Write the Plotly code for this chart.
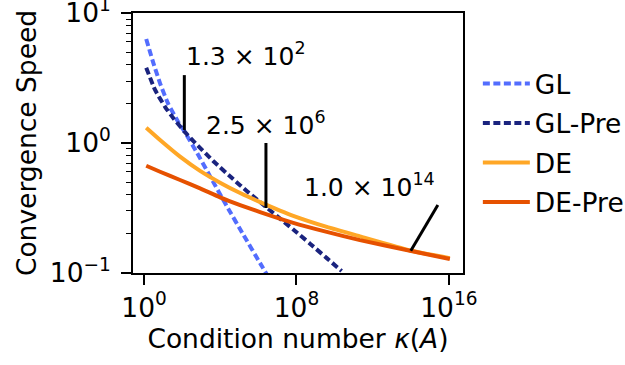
import math
import plotly.graph_objects as go

# ---- data ----
gl_kappa = [1.3, 3.09, 6.92, 18.6, 63.1, 129, 575, 2880, 21900, 1.62e5, 1.23e6, 2.75e6]
gl_speed = [6.31, 4.12, 2.88, 2.00, 1.445, 1.23, 0.851, 0.556, 0.327, 0.197, 0.119, 0.0977]

glpre_kappa = [1.3, 3.80, 12.6, 34.7, 129, 389, 4370, 4.90e4, 2.45e5, 1.23e6, 9.12e6, 6.76e7, 5.13e8, 3.89e9, 2.34e10]
glpre_speed = [3.80, 2.56, 1.90, 1.55, 1.23, 1.035, 0.724, 0.525, 0.427, 0.351, 0.275, 0.216, 0.168, 0.130, 0.1035]

de_kappa = [1.3, 6.92, 77.6, 871, 9770, 1.10e5, 1.23e6, 6.76e7, 3.89e9, 2.14e11, 9.12e13, 1.12e16]
de_speed = [1.31, 1.054, 0.785, 0.610, 0.495, 0.412, 0.351, 0.275, 0.226, 0.191, 0.149, 0.130]

depre_kappa = [1.3, 6.92, 77.6, 871, 9770, 1.10e5, 1.23e6, 6.76e7, 3.89e9, 2.14e11, 9.12e13, 1.12e16]
depre_speed = [0.668, 0.601, 0.519, 0.447, 0.382, 0.333, 0.294, 0.243, 0.207, 0.179, 0.148, 0.128]

series_names = ["GL", "GL-Pre", "DE", "DE-Pre"]

# annotation markers: kappa value, leader-line start/end, label
anno_kappa = [1.3e2, 2.5e6, 1.0e14]
anno_y_start = [1.26, 0.316, 0.148]
anno_kappa_end = [1.3e2, 2.5e6, 2.63e15]
anno_y_end = [3.33, 1.0, 0.333]
anno_labels = ["1.3 × 10<sup>2</sup>", "2.5 × 10<sup>6</sup>", "1.0 × 10<sup>14</sup>"]
anno_text_kappa = [1.26e2, 1.41e3, 1.95e8]
anno_text_y = [4.8, 1.42, 0.47]

x_tickvals = [1, 1e8, 1e16]
x_ticktext = ["10<sup>0</sup>", "10<sup>8</sup>", "10<sup>16</sup>"]
y_tickvals = [0.1, 1, 10]
y_ticktext = ["10<sup>−1</sup>", "10<sup>0</sup>", "10<sup>1</sup>"]
y_minor = [0.2, 0.3, 0.4, 0.5, 0.6, 0.7, 0.8, 0.9, 2, 3, 4, 5, 6, 7, 8, 9]

# ---- styles ----
colors = ["#536DFE", "#1A237E", "#FFA726", "#E65100"]
dashes = ["7px,3.5px", "7px,3.5px", "solid", "solid"]
FS = 26.5

fig = go.Figure()
data = [(gl_kappa, gl_speed), (glpre_kappa, glpre_speed), (de_kappa, de_speed), (depre_kappa, depre_speed)]
for i, (kx, sy) in enumerate(data):
    fig.add_trace(go.Scatter(
        x=kx, y=sy, mode="lines", name=series_names[i], legendgroup=series_names[i],
        line=dict(color=colors[i], width=4, dash=dashes[i], shape="spline", smoothing=0.5),
    ))

for i in range(len(anno_kappa)):
    fig.add_trace(go.Scatter(
        x=[anno_kappa[i], anno_kappa_end[i]], y=[anno_y_start[i], anno_y_end[i]],
        mode="lines", line=dict(color="black", width=3), showlegend=False, hoverinfo="skip",
    ))
    fig.add_annotation(
        x=math.log10(anno_text_kappa[i]), y=math.log10(anno_text_y[i]), xref="x", yref="y",
        text=anno_labels[i], showarrow=False, xanchor="left", yanchor="middle",
        font=dict(size=25, color="black"),
    )

fig.update_layout(
    width=625, height=365,
    margin=dict(l=133, r=162, t=13, b=92, autoexpand=False),
    plot_bgcolor="white", paper_bgcolor="white",
    font=dict(family="DejaVu Sans", size=FS, color="black"),
    legend=dict(x=1.045, y=0.82, xanchor="left", yanchor="top", font=dict(size=FS),
                bgcolor="rgba(0,0,0,0)", tracegroupgap=2, traceorder="grouped", itemwidth=47),
)
fig.update_xaxes(
    type="log", range=[-0.58, 16.74], tickvals=x_tickvals, ticktext=x_ticktext,
    ticks="outside", ticklen=10, tickwidth=1.6, tickcolor="black",
    showline=True, linecolor="black", linewidth=1.6, mirror=True,
    showgrid=False, zeroline=False, ticklabeloverflow="allow",
    title=dict(text="Condition number <i>κ</i>(<i>A</i>)", standoff=8, font=dict(size=FS)),
)
fig.update_yaxes(
    type="log", range=[-1.0005, 1.0005], tickvals=y_tickvals, ticktext=y_ticktext,
    ticks="outside", ticklen=10, tickwidth=1.6, tickcolor="black",
    minor=dict(tickvals=y_minor, ticks="outside", ticklen=5, tickwidth=1.2, tickcolor="black", showgrid=False),
    showline=True, linecolor="black", linewidth=1.6, mirror=True,
    showgrid=False, zeroline=False, ticklabelstandoff=5, ticklabeloverflow="allow",
    title=dict(text="Convergence Speed", standoff=6, font=dict(size=FS)),
)

fig.write_html("out.html")
